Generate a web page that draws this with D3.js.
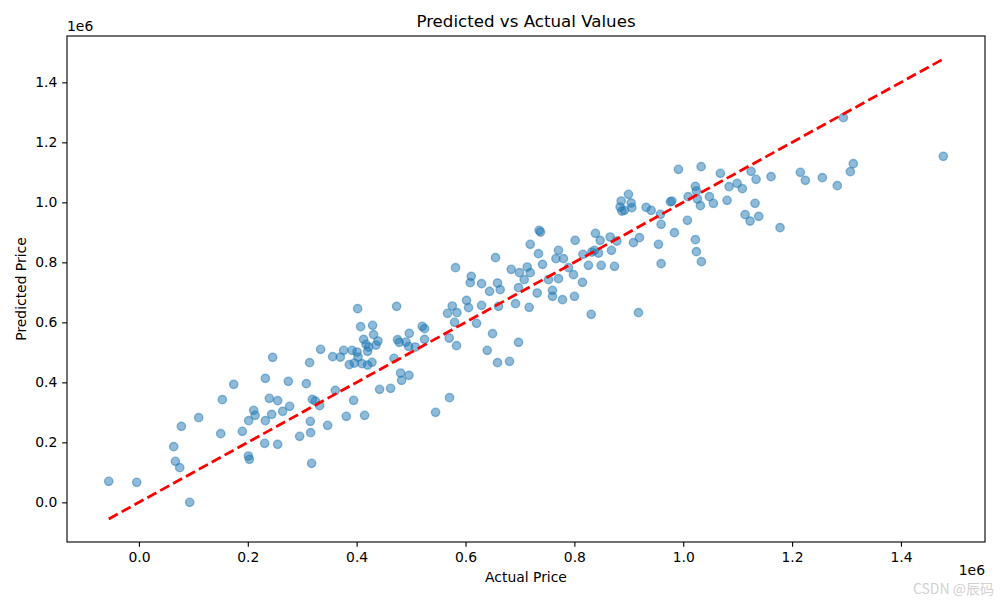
<!DOCTYPE html>
<html>
<head>
<meta charset="utf-8">
<script src="https://cdn.jsdelivr.net/npm/d3@7/dist/d3.min.js"></script>
<style>
  html, body { margin: 0; padding: 0; background: #fff; }
  svg { display: block; font-family: "DejaVu Sans", sans-serif; }
</style>
</head>
<body>
<svg id="chart" width="1000" height="600"></svg>
<script>
// Values in millions (axis offset 1e6)
const actual = [
  -0.0555, -0.0040, 0.0933, 0.0639, 0.0670, 0.0749, 0.0780, 0.1098, 0.1533, 0.1741,
  0.1502, 0.1900, 0.2011, 0.2029, 0.2108, 0.2134, 0.2016, 0.2323, 0.2396, 0.2549,
  0.2439, 0.2323, 0.2310, 0.2549, 0.2640, 0.2769, 0.2745, 0.3076, 0.3186, 0.3241,
  0.3320, 0.3149, 0.3155, 0.2953, 0.3173, 0.3467, 0.3608, 0.3810, 0.3944, 0.4146,
  0.4422, 0.4624, 0.4807, 0.4826, 0.4961, 0.5450, 0.5707, 0.4018, 0.4734, 0.4073,
  0.4293, 0.4311, 0.4128, 0.4392, 0.4356, 0.4172, 0.4220, 0.4201, 0.4007, 0.4025,
  0.3915, 0.3761, 0.3700, 0.3559, 0.3338, 0.3136, 0.2457, 0.3865, 0.3957, 0.4098,
  0.4201, 0.4282, 0.4686, 0.4752, 0.4783, 0.4906, 0.4967, 0.4954, 0.5077,
  0.7189, 0.8015, 0.7708, 0.7661, 0.7800, 0.7341, 0.7415, 0.6552, 0.5817, 0.6105,
  0.6087, 0.6295, 0.6442, 0.6588, 0.6638, 0.6840, 0.6992, 0.7134, 0.7189, 0.7079,
  0.6974, 0.6919, 0.7170, 0.7317, 0.7525, 0.7708, 0.7598, 0.7598, 0.7782, 0.7892,
  0.7984, 0.8002, 0.8149, 0.8259, 0.8157, 0.8322, 0.8369, 0.8443, 0.8474, 0.8682,
  0.8493, 0.8737, 0.8309, 0.6019, 0.6056, 0.5757, 0.5843, 0.5670, 0.6295, 0.6607,
  0.5799, 0.6203, 0.5206, 0.5248, 0.5248, 0.5701, 0.5835, 0.6497, 0.6974, 0.6399,
  0.6588, 0.6809,
  0.8658, 0.8781, 0.9086, 0.9196, 0.9594, 0.9838, 1.0077, 0.9545, 0.9594, 1.0224,
  1.0242, 1.0334, 1.1228, 1.1779, 0.9178,
  0.9912, 1.0329, 1.0683, 1.1247, 1.1339, 1.1614, 1.0843, 1.0990, 1.1087, 1.0806,
  1.1320, 1.1137, 1.1388, 1.0224, 1.0242, 1.0090, 1.0261, 1.0316, 1.0481, 1.0555,
  0.9791, 0.9765, 0.9581, 0.9411, 0.9319, 0.8994, 0.8860, 0.9043, 0.8841, 0.9056,
  0.8873, 0.8920,
  1.2942, 1.2152, 1.2244, 1.2556, 1.2831, 1.3070, 1.3125, 1.4778,
  0.7354, 0.7378, 0.8388
];
const predicted = [
  0.0700, 0.0667, 0.0000, 0.1857, 0.1367, 0.1157, 0.2533, 0.2823, 0.3423, 0.3933,
  0.2290, 0.2367, 0.1543, 0.1433, 0.3067, 0.2900, 0.2723, 0.4133, 0.3467, 0.3390,
  0.2933, 0.2723, 0.1967, 0.1933, 0.3033, 0.3200, 0.4033, 0.3957, 0.3433, 0.3377,
  0.3223, 0.2700, 0.2323, 0.2200, 0.1300, 0.2567, 0.3733, 0.2867, 0.3400, 0.2900,
  0.3767, 0.3800, 0.4310, 0.4067, 0.4233, 0.3000, 0.3490, 0.6457, 0.6533, 0.5857,
  0.5900, 0.5590, 0.5433, 0.5377, 0.5243, 0.5267, 0.5177, 0.5033, 0.5010, 0.4843,
  0.5067, 0.5067, 0.4843, 0.4857, 0.5100, 0.4657, 0.4833, 0.4590, 0.4643, 0.4623,
  0.4577, 0.4667, 0.4800, 0.5423, 0.5333, 0.5343, 0.5633, 0.5200, 0.5177,
  0.8600, 0.8733, 0.8400, 0.8123, 0.8123, 0.8290, 0.7933, 0.8157, 0.7823, 0.7533,
  0.7323, 0.7290, 0.7033, 0.7310, 0.7090, 0.7767, 0.7657, 0.7843, 0.7657, 0.7423,
  0.7157, 0.6623, 0.6500, 0.6977, 0.7423, 0.7457, 0.7067, 0.6867, 0.6757, 0.7823,
  0.7590, 0.6867, 0.7333, 0.7900, 0.8267, 0.8343, 0.8400, 0.8310, 0.8733, 0.8400,
  0.7900, 0.7867, 0.6267, 0.6733, 0.6490, 0.6543, 0.6323, 0.6300, 0.6567, 0.6533,
  0.6000, 0.5967, 0.5867, 0.5790, 0.5433, 0.5477, 0.5223, 0.5623, 0.5333, 0.5067,
  0.4657, 0.4700,
  0.8843, 0.8710, 0.8657, 0.8823, 0.9267, 0.8990, 0.9400, 0.8600, 0.7957, 0.8757,
  0.8357, 0.8023, 0.9377, 0.9157, 0.6323,
  1.1100, 1.1190, 1.0967, 1.1033, 1.0767, 1.0857, 1.0523, 1.0633, 1.0457, 1.0067,
  0.9967, 0.9590, 0.9533, 1.0533, 1.0377, 1.0190, 1.0110, 0.9890, 1.0190, 0.9967,
  1.0043, 1.0017, 0.9600, 0.9733, 0.9833, 1.0267, 1.0043, 0.9977, 0.9843, 0.9823,
  0.9710, 0.9733,
  1.2823, 1.1000, 1.0733, 1.0823, 1.0557, 1.1023, 1.1290, 1.1533,
  0.9067, 0.9010, 0.8967
];
const xTicks = [0.0, 0.2, 0.4, 0.6, 0.8, 1.0, 1.2, 1.4];
const yTicks = [0.0, 0.2, 0.4, 0.6, 0.8, 1.0, 1.2, 1.4];
const titleText = "Predicted vs Actual Values";
const xLabel = "Actual Price";
const yLabel = "Predicted Price";
const offsetText = "1e6";

const svg = d3.select("#chart");
const plot = {left: 67, right: 985, top: 36, bottom: 542};

const points = actual.map((a, i) => ({a, p: predicted[i]}));
const aMin = d3.min(actual), aMax = d3.max(actual);
// matplotlib-like 5% margins over all plotted data (points + diagonal line)
const xLo = aMin, xHi = aMax;
const yLo = Math.min(d3.min(predicted), aMin), yHi = Math.max(d3.max(predicted), aMax);
const xPad = (xHi - xLo) * 0.05, yPad = (yHi - yLo) * 0.05;

const x = d3.scaleLinear().domain([xLo - xPad, xHi + xPad]).range([plot.left, plot.right]);
const y = d3.scaleLinear().domain([yLo - yPad, yHi + yPad]).range([plot.bottom, plot.top]);

const clipId = "clip";
svg.append("defs").append("clipPath").attr("id", clipId)
  .append("rect").attr("x", plot.left).attr("y", plot.top)
  .attr("width", plot.right - plot.left).attr("height", plot.bottom - plot.top);

// points
svg.append("g").attr("clip-path", `url(#${clipId})`)
  .selectAll("circle").data(points).enter().append("circle")
  .attr("cx", d => x(d.a)).attr("cy", d => y(d.p)).attr("r", 4.17)
  .attr("fill", "#1f77b4").attr("fill-opacity", 0.5)
  .attr("stroke", "#1f77b4").attr("stroke-opacity", 0.5).attr("stroke-width", 1.39);

// diagonal line
svg.append("line")
  .attr("x1", x(aMin)).attr("y1", y(aMin)).attr("x2", x(aMax)).attr("y2", y(aMax))
  .attr("stroke", "#ff0000").attr("stroke-width", 2.78)
  .attr("stroke-dasharray", "10.3,4.4");

const fmt = v => v.toFixed(1);
const tickLen = 4.86;

// x axis
const xAxis = d3.axisBottom(x).tickValues(xTicks).tickFormat(fmt).tickSizeInner(tickLen).tickSizeOuter(0).tickPadding(4.86);
const gx = svg.append("g").attr("transform", `translate(0,${plot.bottom})`).call(xAxis);
gx.select(".domain").remove();
gx.selectAll(".tick line").attr("stroke", "#000").attr("stroke-width", 1.11);
gx.selectAll(".tick text").attr("font-size", 13.9).attr("fill", "#000").attr("font-family", "DejaVu Sans");

// y axis
const yAxis = d3.axisLeft(y).tickValues(yTicks).tickFormat(fmt).tickSizeInner(tickLen).tickSizeOuter(0).tickPadding(4.86);
const gy = svg.append("g").attr("transform", `translate(${plot.left},0)`).call(yAxis);
gy.select(".domain").remove();
gy.selectAll(".tick line").attr("stroke", "#000").attr("stroke-width", 1.11);
gy.selectAll(".tick text").attr("font-size", 13.9).attr("fill", "#000").attr("font-family", "DejaVu Sans");

// spines
svg.append("rect").attr("x", plot.left).attr("y", plot.top)
  .attr("width", plot.right - plot.left).attr("height", plot.bottom - plot.top)
  .attr("fill", "none").attr("stroke", "#000").attr("stroke-width", 1.11);

// title
svg.append("text").attr("x", (plot.left + plot.right) / 2).attr("y", 27)
  .attr("text-anchor", "middle").attr("font-size", 16.67).attr("fill", "#000")
  .text(titleText);

// axis labels
svg.append("text").attr("x", (plot.left + plot.right) / 2).attr("y", 582)
  .attr("text-anchor", "middle").attr("font-size", 13.9).attr("fill", "#000")
  .text(xLabel);
svg.append("text").attr("transform", `translate(26,${(plot.top + plot.bottom) / 2}) rotate(-90)`)
  .attr("text-anchor", "middle").attr("font-size", 13.9).attr("fill", "#000")
  .text(yLabel);

// offset texts
svg.append("text").attr("x", plot.left).attr("y", 31)
  .attr("text-anchor", "start").attr("font-size", 13.9).attr("fill", "#000")
  .text(offsetText);
svg.append("text").attr("x", plot.right).attr("y", 575)
  .attr("text-anchor", "end").attr("font-size", 13.9).attr("fill", "#000")
  .text(offsetText);

// watermark
svg.append("text").attr("x", 994).attr("y", 594)
  .attr("text-anchor", "end").attr("font-size", 14)
  .attr("font-family", "'Noto Sans CJK SC', 'DejaVu Sans', sans-serif")
  .attr("fill", "#c8c8c8").attr("fill-opacity", 0.85)
  .text("CSDN @辰码");
</script>
</body>
</html>
